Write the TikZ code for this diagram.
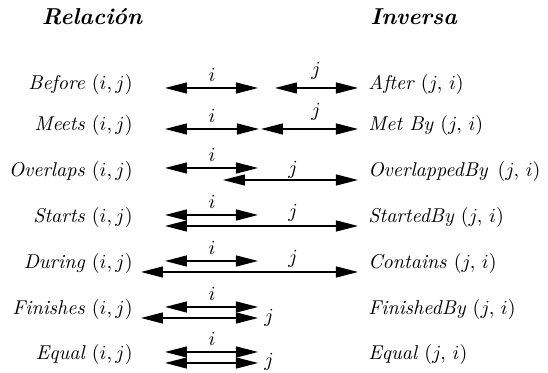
\documentclass[tikz,border=0pt]{standalone}
\usepackage{fontspec}
\usetikzlibrary{arrows.meta}

\tikzset{
	txt/.style={inner sep=0pt, font=\fontsize{10}{12}\selectfont\itshape},
	rel/.style={txt, anchor=base east},
	inv/.style={txt, anchor=base west},
	hdr/.style={txt, anchor=base, font=\fontsize{11.5}{13}\selectfont\bfseries\itshape},
	lbl/.style={inner sep=0pt, anchor=south, font=\fontsize{10}{12}\selectfont},
	ival/.style={{Triangle[length=11pt, width=5.5pt]}-{Triangle[length=11pt, width=5.5pt]}, line width=0.65pt}
}

\begin{document}
\begin{tikzpicture}[x=5pt, y=-5pt]
	\useasboundingbox (0, 0) rectangle (54.8, 37.3);
	% Headings:
	\node[hdr] (hRel) at (9.2, 2.5){Relación};
	\node[hdr, anchor=base west] (hInv) at (37.0, 2.5){Inversa};
	% Relations and inverses:
	\node[rel] (rBefore) at (13.3, 9.0){Before $(i,j)$};
	\node[rel] (rMeets) at (13.3, 13.1){Meets $(i,j)$};
	\node[rel] (rOverlaps) at (13.3, 17.7){Overlaps $(i,j)$};
	\node[rel] (rStarts) at (13.3, 22.3){Starts $(i,j)$};
	\node[rel] (rDuring) at (13.3, 26.9){During $(i,j)$};
	\node[rel] (rFinishes) at (13.3, 31.5){Finishes $(i,j)$};
	\node[rel] (rEqual) at (13.3, 36.0){Equal $(i,j)$};
	\node[inv] (vAfter) at (36.8, 9.0){After $(j,\,i)$};
	\node[inv] (vMetBy) at (36.8, 13.1){Met By $(j,\,i)$};
	\node[inv] (vOverlapped) at (36.8, 17.7){OverlappedBy\enspace$(j,\,i)$};
	\node[inv] (vStarted) at (36.8, 22.3){StartedBy $(j,\,i)$};
	\node[inv] (vContains) at (36.8, 26.9){Contains $(j,\,i)$};
	\node[inv] (vFinished) at (36.8, 31.5){FinishedBy $(j,\,i)$};
	\node[inv] (vEqual) at (36.8, 36.0){Equal $(j,\,i)$};
	% Interval ends:
	\coordinate (bfIa) at (16.5, 8.8); \coordinate (bfIb) at (25.8, 8.8);
	\coordinate (bfJa) at (27.5, 8.8); \coordinate (bfJb) at (35.8, 8.8);
	\coordinate (mtIa) at (16.5, 12.9); \coordinate (mtIb) at (25.9, 12.9);
	\coordinate (mtJa) at (26.1, 12.9); \coordinate (mtJb) at (35.8, 12.9);
	\coordinate (ovIa) at (16.5, 16.8); \coordinate (ovIb) at (25.8, 16.8);
	\coordinate (ovJa) at (22.3, 18.0); \coordinate (ovJb) at (35.8, 18.0);
	\coordinate (stIa) at (16.5, 21.5); \coordinate (stIb) at (25.8, 21.5);
	\coordinate (stJa) at (16.5, 22.6); \coordinate (stJb) at (35.8, 22.6);
	\coordinate (drIa) at (16.5, 26.1); \coordinate (drIb) at (25.8, 26.1);
	\coordinate (drJa) at (14.1, 27.2); \coordinate (drJb) at (35.8, 27.2);
	\coordinate (fnIa) at (16.5, 30.7); \coordinate (fnIb) at (25.8, 30.7);
	\coordinate (fnJa) at (14.1, 31.8); \coordinate (fnJb) at (25.8, 31.8);
	\coordinate (eqIa) at (16.5, 35.2); \coordinate (eqIb) at (25.8, 35.2);
	\coordinate (eqJa) at (16.5, 36.3); \coordinate (eqJb) at (25.8, 36.3);
	% Intervals:
	\draw[ival] (bfIa) -- (bfIb);
	\draw[ival] (bfJa) -- (bfJb);
	\draw[ival] (mtIa) -- (mtIb);
	\draw[ival] (mtJa) -- (mtJb);
	\draw[ival] (ovIa) -- (ovIb);
	\draw[ival] (ovJa) -- (ovJb);
	\draw[ival] (stIa) -- (stIb);
	\draw[ival] (stJa) -- (stJb);
	\draw[ival] (drIa) -- (drIb);
	\draw[ival] (drJa) -- (drJb);
	\draw[ival] (fnIa) -- (fnIb);
	\draw[ival] (fnJa) -- (fnJb);
	\draw[ival] (eqIa) -- (eqIb);
	\draw[ival] (eqJa) -- (eqJb);
	% Labels i and j:
	\node[lbl] (bfI) at (21.2, 8.2){$i$};
	\node[lbl] (bfJ) at (31.6, 8.0){$j$};
	\node[lbl] (mtI) at (21.2, 12.3){$i$};
	\node[lbl] (mtJ) at (31.6, 12.1){$j$};
	\node[lbl] (ovI) at (21.2, 16.2){$i$};
	\node[lbl] (ovJ) at (29.3, 17.9){$j$};
	\node[lbl] (stI) at (21.2, 20.9){$i$};
	\node[lbl] (stJ) at (29.3, 22.2){$j$};
	\node[lbl] (drI) at (21.2, 25.5){$i$};
	\node[lbl] (drJ) at (29.3, 26.8){$j$};
	\node[lbl] (fnI) at (21.2, 30.1){$i$};
	\node[lbl, anchor=base west] (fnJ) at (26.4, 32.3){$j$};
	\node[lbl] (eqI) at (21.2, 34.6){$i$};
	\node[lbl, anchor=base west] (eqJ) at (26.4, 36.7){$j$};
\end{tikzpicture}
\end{document}
